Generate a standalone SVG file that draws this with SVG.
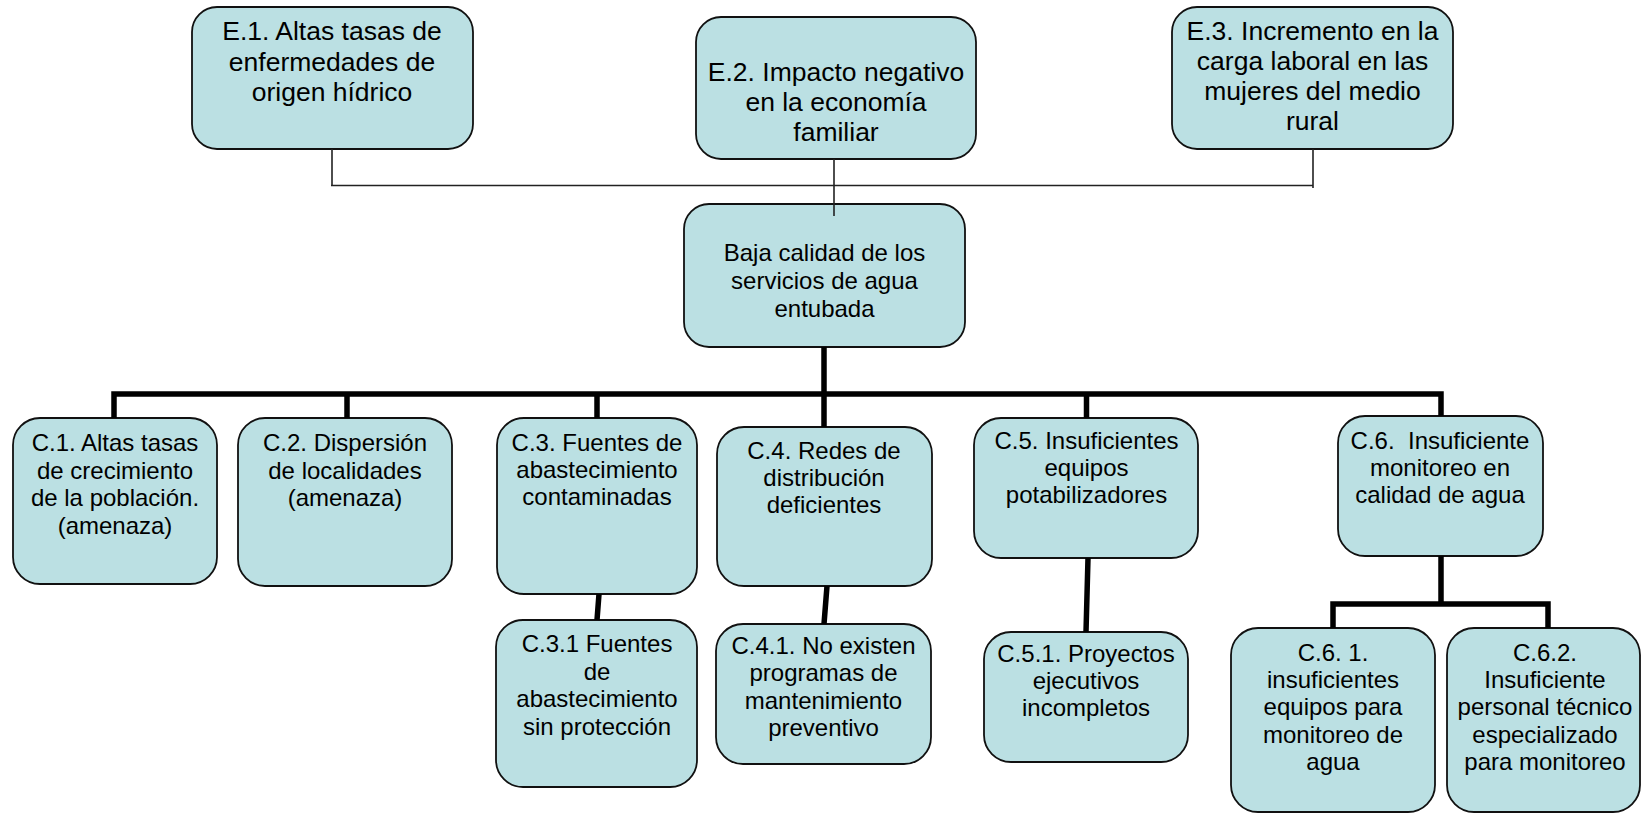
<svg xmlns="http://www.w3.org/2000/svg" width="1642" height="814" viewBox="0 0 1642 814">
<style>
.box{fill:#bbe0e3;stroke:#111;stroke-width:1.8}
text{font-family:"Liberation Sans",Arial,sans-serif;fill:#000;text-anchor:middle}
.e{font-size:26.5px}
.c{font-size:24px}
.thin{fill:none;stroke:#222;stroke-width:1.6}
.thick{fill:none;stroke:#000;stroke-width:5.5;stroke-linejoin:miter}
</style>
<rect width="1642" height="814" fill="#fff"/>
<g id="E1"><rect class="box" x="192" y="7" width="281" height="142" rx="25"/>
<text class="e"><tspan x="332" y="40">E.1. Altas tasas de</tspan><tspan x="332" y="70.5">enfermedades de</tspan><tspan x="332" y="100.5">origen hídrico</tspan></text></g>
<g id="E2"><rect class="box" x="696" y="17" width="280" height="142" rx="25"/>
<text class="e"><tspan x="836" y="81">E.2. Impacto negativo</tspan><tspan x="836" y="111">en la economía</tspan><tspan x="836" y="141">familiar</tspan></text></g>
<g id="E3"><rect class="box" x="1172" y="7" width="281" height="142" rx="25"/>
<text class="e"><tspan x="1312.5" y="40">E.3. Incremento en la</tspan><tspan x="1312.5" y="70">carga laboral en las</tspan><tspan x="1312.5" y="100">mujeres del medio</tspan><tspan x="1312.5" y="130">rural</tspan></text></g>
<g id="P"><rect class="box" x="684" y="204" width="281" height="143" rx="25"/>
<text class="c"><tspan x="824.5" y="261">Baja calidad de los</tspan><tspan x="824.5" y="289">servicios de agua</tspan><tspan x="824.5" y="317">entubada</tspan></text></g>
<g id="C1"><rect class="box" x="13" y="418" width="204" height="166" rx="27"/>
<text class="c"><tspan x="115" y="451">C.1. Altas tasas</tspan><tspan x="115" y="478.5">de crecimiento</tspan><tspan x="115" y="506">de la población.</tspan><tspan x="115" y="533.5">(amenaza)</tspan></text></g>
<g id="C2"><rect class="box" x="238" y="418" width="214" height="168" rx="27"/>
<text class="c"><tspan x="345" y="451">C.2. Dispersión</tspan><tspan x="345" y="478.5">de localidades</tspan><tspan x="345" y="506">(amenaza)</tspan></text></g>
<g id="C3"><rect class="box" x="497" y="418" width="200" height="176" rx="27"/>
<text class="c"><tspan x="597" y="451">C.3. Fuentes de</tspan><tspan x="597" y="478">abastecimiento</tspan><tspan x="597" y="505">contaminadas</tspan></text></g>
<g id="C4"><rect class="box" x="717" y="427" width="215" height="159" rx="27"/>
<text class="c"><tspan x="824" y="459">C.4. Redes de</tspan><tspan x="824" y="486">distribución</tspan><tspan x="824" y="513">deficientes</tspan></text></g>
<g id="C5"><rect class="box" x="974" y="418" width="224" height="140" rx="27"/>
<text class="c"><tspan x="1086.5" y="448.5">C.5. Insuficientes</tspan><tspan x="1086.5" y="475.5">equipos</tspan><tspan x="1086.5" y="503">potabilizadores</tspan></text></g>
<g id="C6"><rect class="box" x="1338" y="416" width="205" height="140" rx="27"/>
<text class="c" xml:space="preserve"><tspan x="1440" y="448.5">C.6.  Insuficiente</tspan><tspan x="1440" y="475.5">monitoreo en</tspan><tspan x="1440" y="503">calidad de agua</tspan></text></g>
<g id="C31"><rect class="box" x="496" y="620" width="201" height="167" rx="27"/>
<text class="c"><tspan x="597" y="652">C.3.1 Fuentes</tspan><tspan x="597" y="679.5">de</tspan><tspan x="597" y="707">abastecimiento</tspan><tspan x="597" y="734.5">sin protección</tspan></text></g>
<g id="C41"><rect class="box" x="716" y="624" width="215" height="140" rx="27"/>
<text class="c"><tspan x="823.5" y="654">C.4.1. No existen</tspan><tspan x="823.5" y="681">programas de</tspan><tspan x="823.5" y="708.5">mantenimiento</tspan><tspan x="823.5" y="736">preventivo</tspan></text></g>
<g id="C51"><rect class="box" x="984" y="632" width="204" height="130" rx="27"/>
<text class="c"><tspan x="1086" y="661.5">C.5.1. Proyectos</tspan><tspan x="1086" y="688.5">ejecutivos</tspan><tspan x="1086" y="715.5">incompletos</tspan></text></g>
<g id="C61"><rect class="box" x="1231" y="628" width="204" height="184" rx="27"/>
<text class="c"><tspan x="1333" y="661">C.6. 1.</tspan><tspan x="1333" y="688">insuficientes</tspan><tspan x="1333" y="715">equipos para</tspan><tspan x="1333" y="742.5">monitoreo de</tspan><tspan x="1333" y="770">agua</tspan></text></g>
<g id="C62"><rect class="box" x="1447" y="628" width="193" height="184" rx="27"/>
<text class="c"><tspan x="1545" y="661">C.6.2.</tspan><tspan x="1545" y="688">Insuficiente</tspan><tspan x="1545" y="715">personal técnico</tspan><tspan x="1545" y="742.5">especializado</tspan><tspan x="1545" y="770">para monitoreo</tspan></text></g>
<g id="connectors">
<path class="thin" d="M332,149 V186 M331,185.5 H1313 M1313,149 V188 M834,159 V216"/>
<path class="thick" d="M824,347 V394 M114,418 V394 H1441 V416 M347,394 V418 M597,394 V418 M824,394 V427 M1086.5,394 V418"/>
<path class="thick" d="M599,594 L597,620 M827,586 L824,624 M1088,558 L1086,632 M1441,556 V604 M1333,628 V604 H1548 V628"/>
</g>
</svg>
